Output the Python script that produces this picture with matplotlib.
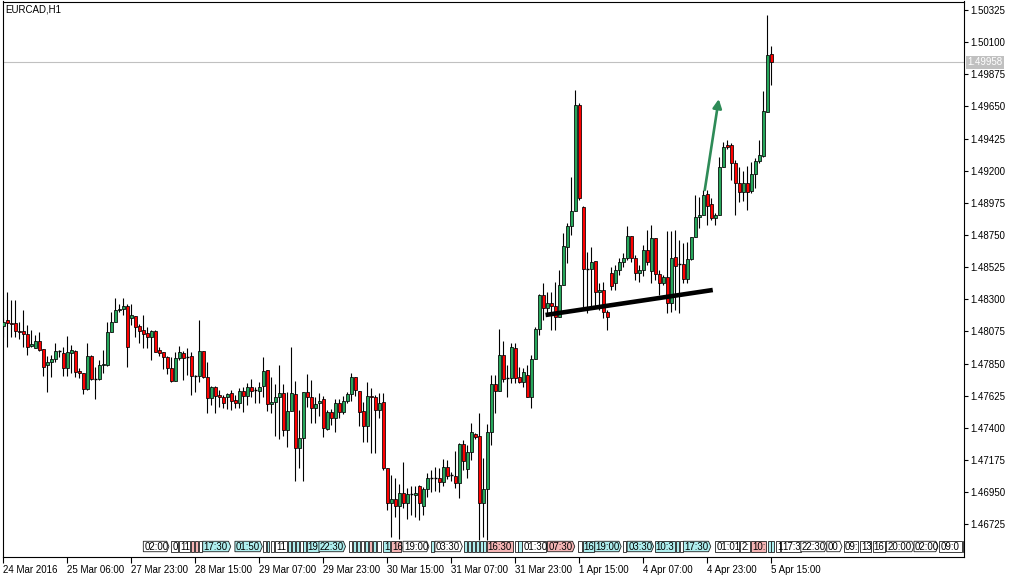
import matplotlib
matplotlib.use("Agg")
import matplotlib.pyplot as plt
from matplotlib.patches import Rectangle, Polygon
from matplotlib.transforms import blended_transform_factory
import numpy as np

plt.rcParams['font.family'] = ['Liberation Sans', 'DejaVu Sans']

symbol = "EURCAD,H1"

opens = [1.48113, 1.48155, 1.48134, 1.48134, 1.48078, 1.48078, 1.48057, 1.47973, 1.47959, 1.48008,
         1.47952, 1.47840, 1.47861, 1.47882, 1.47938, 1.47924, 1.47819, 1.47924, 1.47938, 1.47798,
         1.47784, 1.47672, 1.47903, 1.47742, 1.47742, 1.47840, 1.47840, 1.48071, 1.48141, 1.48225,
         1.48232, 1.48253, 1.48169, 1.48183, 1.48113, 1.48085, 1.48064, 1.48036, 1.48078, 1.47945,
         1.47931, 1.47896, 1.47819, 1.47728, 1.47889, 1.47924, 1.47896, 1.47903, 1.47763, 1.47763,
         1.47938, 1.47756, 1.47609, 1.47686, 1.47630, 1.47616, 1.47616, 1.47644, 1.47595, 1.47574,
         1.47658, 1.47623, 1.47686, 1.47665, 1.47658, 1.47693, 1.47805, 1.47567, 1.47581, 1.47616,
         1.47644, 1.47385, 1.47518, 1.47637, 1.47259, 1.47329, 1.47651, 1.47616, 1.47539, 1.47574,
         1.47602, 1.47392, 1.47511, 1.47469, 1.47574, 1.47511, 1.47588, 1.47637, 1.47756, 1.47658,
         1.47518, 1.47413, 1.47623, 1.47616, 1.47525, 1.47581, 1.47119, 1.46874, 1.46902, 1.46853,
         1.46944, 1.46874, 1.46937, 1.46930, 1.46993, 1.46853, 1.46972, 1.47049, 1.47049, 1.47049,
         1.47021, 1.47126, 1.47070, 1.47063, 1.47014, 1.47287, 1.47112, 1.47231, 1.47357, 1.47343,
         1.46874, 1.46972, 1.47371, 1.47707, 1.47658, 1.47910, 1.47749, 1.47749, 1.47959, 1.47756,
         1.47721, 1.47770, 1.47616, 1.47882, 1.48092, 1.48330, 1.48239, 1.48274, 1.48253, 1.48176,
         1.48400, 1.48666, 1.48813, 1.48918, 1.49660, 1.48946, 1.48512, 1.48512, 1.48568, 1.48351,
         1.48365, 1.48211, 1.48484, 1.48414, 1.48505, 1.48561, 1.48589, 1.48743, 1.48589, 1.48484,
         1.48505, 1.48645, 1.48498, 1.48729, 1.48477, 1.48414, 1.48456, 1.48274, 1.48596, 1.48547,
         1.48547, 1.48442, 1.48582, 1.48736, 1.48876, 1.48890, 1.49037, 1.48967, 1.48869, 1.48890,
         1.49226, 1.49380, 1.49380, 1.49254, 1.49114, 1.49051, 1.49114, 1.49058, 1.49177, 1.49268,
         1.49303, 1.49611, 1.50017]

highs = [1.48169, 1.48351, 1.48295, 1.48295, 1.48141, 1.48225, 1.48120, 1.48085, 1.48050, 1.48071,
         1.47952, 1.47903, 1.47910, 1.47994, 1.47945, 1.47966, 1.48043, 1.47980, 1.47945, 1.47819,
         1.47784, 1.47994, 1.47910, 1.47826, 1.47875, 1.47945, 1.48141, 1.48211, 1.48309, 1.48267,
         1.48309, 1.48267, 1.48267, 1.48183, 1.48127, 1.48190, 1.48106, 1.48085, 1.48085, 1.47966,
         1.47931, 1.47903, 1.47896, 1.47931, 1.47973, 1.47938, 1.47959, 1.47931, 1.47770, 1.48155,
         1.47938, 1.47861, 1.47693, 1.47693, 1.47665, 1.47630, 1.47644, 1.47665, 1.47630, 1.47679,
         1.47686, 1.47714, 1.47742, 1.47686, 1.47721, 1.47896, 1.47805, 1.47756, 1.47707, 1.47840,
         1.47707, 1.47651, 1.47966, 1.47728, 1.47525, 1.47651, 1.47777, 1.47735, 1.47616, 1.47644,
         1.47623, 1.47525, 1.47532, 1.47602, 1.47602, 1.47623, 1.47651, 1.47784, 1.47756, 1.47658,
         1.47581, 1.47721, 1.47679, 1.47630, 1.47644, 1.47644, 1.47119, 1.47070, 1.47049, 1.47007,
         1.47161, 1.46979, 1.46993, 1.46993, 1.47000, 1.46986, 1.47084, 1.47105, 1.47126, 1.47119,
         1.47182, 1.47175, 1.47091, 1.47238, 1.47294, 1.47315, 1.47280, 1.47434, 1.47364, 1.47504,
         1.47189, 1.47427, 1.47770, 1.47770, 1.48092, 1.48008, 1.47840, 1.47994, 1.47994, 1.47826,
         1.47819, 1.47840, 1.47910, 1.48106, 1.48337, 1.48414, 1.48351, 1.48351, 1.48421, 1.48505,
         1.48764, 1.48834, 1.49156, 1.49765, 1.49674, 1.48953, 1.48631, 1.48666, 1.48568, 1.48414,
         1.48421, 1.48225, 1.48526, 1.48540, 1.48589, 1.48624, 1.48813, 1.48743, 1.48610, 1.48540,
         1.48680, 1.48785, 1.48820, 1.48729, 1.48505, 1.48470, 1.48778, 1.48778, 1.48785, 1.48715,
         1.48694, 1.48701, 1.48736, 1.49030, 1.49016, 1.49065, 1.49065, 1.49009, 1.48904, 1.49296,
         1.49401, 1.49415, 1.49394, 1.49275, 1.49226, 1.49198, 1.49233, 1.49261, 1.49289, 1.49415,
         1.49758, 1.50290, 1.50073]

lows = [1.48036, 1.47966, 1.48036, 1.48036, 1.48022, 1.47966, 1.47910, 1.47966, 1.47959, 1.47938,
        1.47763, 1.47651, 1.47756, 1.47861, 1.47896, 1.47763, 1.47763, 1.47784, 1.47756, 1.47749,
        1.47637, 1.47665, 1.47735, 1.47602, 1.47735, 1.47784, 1.47833, 1.48071, 1.48141, 1.48211,
        1.48190, 1.47826, 1.48120, 1.48036, 1.47994, 1.47959, 1.47959, 1.47875, 1.47931, 1.47903,
        1.47812, 1.47777, 1.47721, 1.47728, 1.47875, 1.47735, 1.47770, 1.47630, 1.47651, 1.47721,
        1.47749, 1.47504, 1.47560, 1.47504, 1.47546, 1.47539, 1.47532, 1.47525, 1.47539, 1.47539,
        1.47511, 1.47560, 1.47616, 1.47574, 1.47574, 1.47616, 1.47518, 1.47504, 1.47343, 1.47322,
        1.47343, 1.47266, 1.47518, 1.47028, 1.47119, 1.47028, 1.47546, 1.47434, 1.47434, 1.47483,
        1.47336, 1.47385, 1.47420, 1.47371, 1.47469, 1.47497, 1.47574, 1.47588, 1.47623, 1.47413,
        1.47301, 1.47301, 1.47224, 1.47224, 1.47469, 1.47105, 1.46825, 1.46636, 1.46776, 1.46622,
        1.46839, 1.46762, 1.46790, 1.46776, 1.46755, 1.46790, 1.46916, 1.46951, 1.46958, 1.46951,
        1.46993, 1.47042, 1.47028, 1.46979, 1.46909, 1.47105, 1.47049, 1.47175, 1.47322, 1.46615,
        1.46636, 1.46615, 1.47280, 1.47504, 1.47658, 1.47721, 1.47616, 1.47714, 1.47714, 1.47714,
        1.47686, 1.47616, 1.47539, 1.47882, 1.48050, 1.48155, 1.48204, 1.48085, 1.48085, 1.48176,
        1.48400, 1.48554, 1.48750, 1.48918, 1.48995, 1.48246, 1.48204, 1.48246, 1.48246, 1.48225,
        1.48169, 1.48085, 1.48365, 1.48365, 1.48470, 1.48526, 1.48575, 1.48561, 1.48435, 1.48421,
        1.48463, 1.48540, 1.48414, 1.48435, 1.48330, 1.48400, 1.48204, 1.48211, 1.48225, 1.48204,
        1.48414, 1.48414, 1.48575, 1.48736, 1.48799, 1.48890, 1.48820, 1.48855, 1.48820, 1.48890,
        1.49226, 1.49352, 1.49135, 1.48890, 1.48981, 1.48988, 1.48925, 1.49044, 1.49079, 1.49254,
        1.49296, 1.49611, 1.49800]

closes = [1.48141, 1.48134, 1.48127, 1.48078, 1.48071, 1.48057, 1.47966, 1.47987, 1.48008, 1.47945,
          1.47826, 1.47861, 1.47882, 1.47938, 1.47938, 1.47819, 1.47931, 1.47945, 1.47791, 1.47784,
          1.47672, 1.47903, 1.47742, 1.47742, 1.47840, 1.47847, 1.48071, 1.48141, 1.48225, 1.48232,
          1.48253, 1.47966, 1.48190, 1.48106, 1.48078, 1.48057, 1.48036, 1.48078, 1.47931, 1.47924,
          1.47896, 1.47819, 1.47728, 1.47889, 1.47931, 1.47889, 1.47896, 1.47763, 1.47763, 1.47938,
          1.47756, 1.47609, 1.47686, 1.47623, 1.47616, 1.47574, 1.47637, 1.47588, 1.47574, 1.47658,
          1.47623, 1.47686, 1.47658, 1.47665, 1.47686, 1.47798, 1.47567, 1.47581, 1.47616, 1.47644,
          1.47385, 1.47518, 1.47644, 1.47259, 1.47329, 1.47651, 1.47616, 1.47539, 1.47567, 1.47588,
          1.47399, 1.47511, 1.47469, 1.47574, 1.47511, 1.47588, 1.47637, 1.47756, 1.47665, 1.47511,
          1.47413, 1.47623, 1.47616, 1.47525, 1.47574, 1.47119, 1.46874, 1.46902, 1.46853, 1.46944,
          1.46874, 1.46937, 1.46937, 1.46944, 1.46874, 1.46972, 1.47049, 1.47049, 1.47049, 1.47021,
          1.47126, 1.47063, 1.47070, 1.47014, 1.47287, 1.47168, 1.47231, 1.47371, 1.47336, 1.46874,
          1.46972, 1.47371, 1.47707, 1.47658, 1.47910, 1.47742, 1.47749, 1.47966, 1.47749, 1.47721,
          1.47791, 1.47616, 1.47882, 1.48092, 1.48330, 1.48239, 1.48274, 1.48253, 1.48176, 1.48400,
          1.48673, 1.48813, 1.48918, 1.49660, 1.49009, 1.48512, 1.48512, 1.48561, 1.48351, 1.48365,
          1.48211, 1.48176, 1.48393, 1.48505, 1.48561, 1.48589, 1.48743, 1.48589, 1.48484, 1.48505,
          1.48645, 1.48561, 1.48729, 1.48477, 1.48414, 1.48456, 1.48274, 1.48589, 1.48533, 1.48547,
          1.48442, 1.48582, 1.48736, 1.48876, 1.48890, 1.49030, 1.48953, 1.48869, 1.48890, 1.49226,
          1.49366, 1.49366, 1.49254, 1.49114, 1.49051, 1.49114, 1.49051, 1.49177, 1.49268, 1.49310,
          1.49618, 1.50010, 1.49958]

last_price = 1.49958

date_labels = ["24 Mar 2016", "25 Mar 06:00", "27 Mar 23:00", "28 Mar 15:00", "29 Mar 07:00",
               "29 Mar 23:00", "30 Mar 15:00", "31 Mar 07:00", "31 Mar 23:00", "1 Apr 15:00",
               "4 Apr 07:00", "4 Apr 23:00", "5 Apr 15:00"]
label_step = 16
price_ticks = [1.46725, 1.46950, 1.47175, 1.47400, 1.47625, 1.47850, 1.48075, 1.48300, 1.48525,
               1.48750, 1.48975, 1.49200, 1.49425, 1.49650, 1.49875, 1.50100, 1.50325]

# support line and arrow drawn on the chart (bar index, price)
trend_bars = [135.6, 177.4]
trend_prices = [1.48190, 1.48365]
arrow_start = (175.4, 1.49065)
arrow_end = (178.9, 1.49702)

# economic calendar strip: start bar, end bar, text, colour kind, pointed
events = [
    (35.05, 41.45, "02:00", "w", True), (42.05, 43.7, "0", "w", False), (44.05, 46.7, "11", "w", False),
    (46.95, 47.7, "", "p", False), (48.05, 48.7, "", "p", False), (49.05, 49.6, "", "w", False),
    (49.9, 56.9, "17:30", "c", True), (57.95, 64.8, "01:50", "c", True),
    (65.0, 65.6, "", "w", False), (65.9, 66.5, "", "c", False), (66.9, 67.6, "", "w", False),
    (67.95, 70.9, "11", "w", False),
    (71.1, 71.9, "", "c", False), (72.1, 72.9, "", "c", False), (73.1, 73.9, "", "c", False),
    (74.1, 74.9, "", "w", False), (75.0, 75.6, "", "c", False),
    (75.9, 78.95, "19", "c", False), (78.95, 85.6, "22:30", "c", True),
    (86.4, 87.1, "", "w", False), (87.4, 88.1, "", "c", False), (88.4, 89.1, "", "c", False),
    (89.4, 90.1, "", "w", False), (90.4, 91.1, "", "c", False), (91.4, 92.1, "", "p", False),
    (92.4, 93.1, "", "c", False), (93.4, 94.4, "", "w", False),
    (95.05, 96.7, "1", "c", False), (97.05, 99.55, "16", "p", False), (99.95, 106.45, "19:00", "w", True),
    (106.9, 107.6, "", "c", False), (107.95, 114.8, "03:30", "w", True),
    (115.1, 115.9, "", "c", False), (116.1, 116.9, "", "c", False), (117.1, 117.9, "", "c", False),
    (118.1, 118.9, "", "c", False), (119.1, 119.9, "", "c", False), (120.0, 120.75, "", "c", False),
    (120.9, 127.5, "16:30", "p", False), (127.9, 128.6, "", "w", False), (128.75, 129.6, "", "c", False),
    (129.8, 135.8, "01:30", "w", False), (136.1, 142.9, "07:30", "p", True), (143.8, 144.6, "", "w", False),
    (144.9, 147.6, "16", "c", False), (147.9, 154.5, "19:00", "c", True), (154.9, 155.75, "", "w", False),
    (156.0, 162.6, "03:30", "c", True), (162.9, 168.0, "10:3", "c", False),
    (168.1, 168.9, "", "c", False), (169.1, 169.9, "", "w", False),
    (170.05, 176.9, "17:30", "c", True), (178.0, 184.0, "01:01", "w", False), (184.3, 186.6, "2:", "w", False),
    (187.0, 190.6, "10:", "p", False), (191.1, 191.9, "", "c", False), (192.0, 192.75, "", "c", False),
    (193.2, 194.3, "1", "w", False), (194.55, 199.4, "17:3", "w", False), (199.4, 205.9, "22:30", "w", True),
    (205.9, 209.7, "00", "w", True), (210.1, 213.8, "09:", "w", False), (214.25, 216.97, "13", "w", False),
    (217.4, 220.4, "16", "w", False), (220.8, 227.7, "20:00", "w", True), (227.7, 233.7, "02:00", "w", True),
    (234.0, 239.7, "09:0", "w", False), (239.9, 240.4, "", "w", False),
]

bull = '#26a65b'
bear = '#ff0000'
kind_col = {'w': 'white', 'c': '#aeeeee', 'p': '#f4b4b4'}

W, H = 1017, 578
fig = plt.figure(figsize=(W / 100, H / 100), dpi=100)
ax = fig.add_axes([2.5 / W, 21 / H, 961.5 / W, 555.5 / H])

n = len(closes)
idx = np.arange(n)
ax.vlines(idx, lows, highs, color='black', lw=0.8, zorder=2)
for i in range(n):
    o, c = opens[i], closes[i]
    if abs(c - o) < 0.00004:
        ax.hlines(o, i - 0.38, i + 0.38, color='black', lw=1.0, zorder=3)
    else:
        ax.add_patch(Rectangle((i - 0.38, min(o, c)), 0.76, abs(c - o),
                               facecolor=bull if c > o else bear,
                               edgecolor='black', lw=0.55, zorder=3))

ax.axhline(last_price, color='#c0c0c0', lw=0.8, zorder=1)
ax.plot(trend_bars, trend_prices, color='black', lw=3.3, solid_capstyle='butt', zorder=4)
ax.annotate('', xy=arrow_end, xytext=arrow_start,
            arrowprops=dict(arrowstyle='-|>', color='#2e8b57', lw=1.9,
                            mutation_scale=13, shrinkA=0, shrinkB=0), zorder=4)

ax.set_xlim(-0.15, 240.2)
ax.set_ylim(1.46496, 1.503845)

# calendar strip
tr = ax.get_xaxis_transform()
y0, y1 = 0.0095, 0.0283
ym = (y0 + y1) / 2
for x0, x1, txt, kind, pointed in events:
    if pointed:
        pts = [(x0, y0), (x1 - 0.55, y0), (x1, ym), (x1 - 0.55, y1), (x0, y1)]
    else:
        pts = [(x0, y0), (x1, y0), (x1, y1), (x0, y1)]
    ax.add_patch(Polygon(pts, closed=True, transform=tr, facecolor=kind_col[kind],
                         edgecolor='#202020', lw=0.6, zorder=6))
    if txt:
        ax.text(x0 + 0.25, ym, txt, transform=tr, fontsize=7, va='center', ha='left', zorder=7)

ax.yaxis.tick_right()
ax.set_yticks(price_ticks)
ax.set_yticklabels(["%.5f" % v for v in price_ticks])
ax.set_xticks(np.arange(len(date_labels)) * label_step)
ax.set_xticklabels(date_labels)
for lab in ax.get_xticklabels():
    lab.set_ha('left')
ax.tick_params(axis='y', direction='out', length=3, width=0.8, pad=1.5, labelsize=7, colors='black')
ax.tick_params(axis='x', direction='out', length=4, width=0.8, pad=1.5, labelsize=7, colors='black')
for sp in ax.spines.values():
    sp.set_color('black')
    sp.set_linewidth(0.8)

ax.text(0.003, 0.995, symbol, transform=ax.transAxes, fontsize=7, va='top', ha='left')
ax.text(1.0 + 3 / 961.5, last_price, "%.5f" % last_price,
        transform=blended_transform_factory(ax.transAxes, ax.transData),
        fontsize=7, color='white', va='center', ha='left', clip_on=False, zorder=10,
        bbox=dict(boxstyle='square,pad=0.15', fc='#c0c0c0', ec='none'))

fig.savefig('out.png', dpi=100)
